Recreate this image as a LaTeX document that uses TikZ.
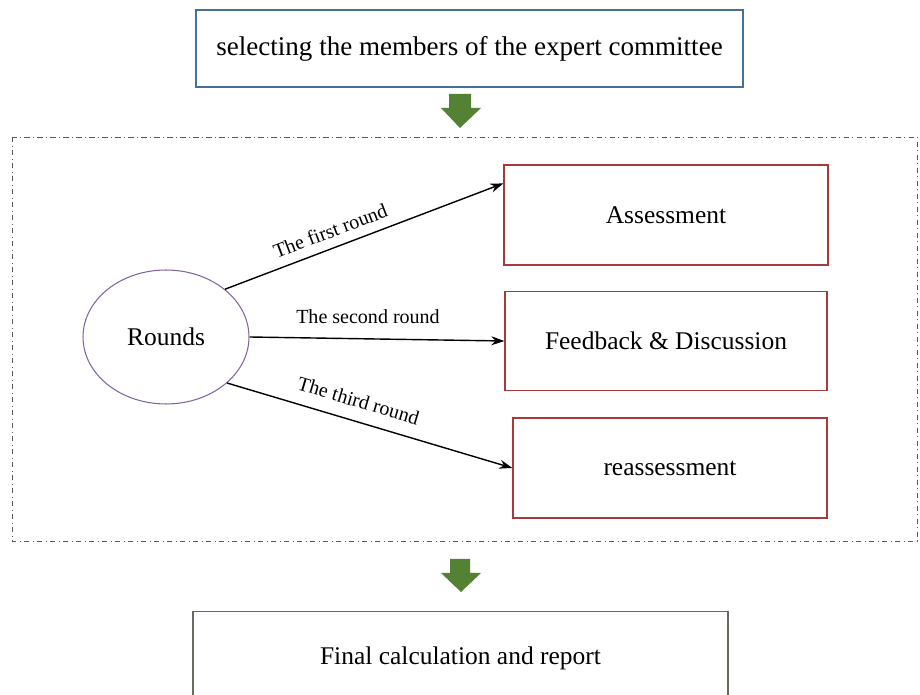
\documentclass[tikz,border=0pt]{standalone}
\usepackage{fontspec}
\setmainfont{Liberation Serif}
\usetikzlibrary{calc, positioning}
\usetikzlibrary{shapes.geometric}
\usetikzlibrary{arrows.meta}

\definecolor{topblue}{RGB}{70,112,150}
\definecolor{boxred}{RGB}{168,58,58}
\definecolor{ringpurple}{RGB}{128,100,162}
\definecolor{leafgreen}{RGB}{84,130,53}
\definecolor{olivegray}{RGB}{105,105,95}

\begin{document}
\begin{tikzpicture}[x=0.02cm, y=-0.02cm,
  bigtext/.style={font=\fontsize{14.5}{17}\selectfont},
  roundtext/.style={font=\fontsize{11.4}{13}\selectfont},
  stagebox/.style={draw=boxred, thick, minimum height=2cm, bigtext},
  flow/.style={-{Stealth[length=2.6mm, width=1.8mm]}, thick}
]
\useasboundingbox (0,0) rectangle (920,695);

% top and bottom steps
\node[draw=topblue, thick, minimum width=10.94cm, minimum height=1.54cm,
  font=\fontsize{15.4}{18}\selectfont, text depth=1mm]
  (select) at (469.5,48.5) {selecting the members of the expert committee};
\node[draw=olivegray, thick, minimum width=10.7cm, minimum height=1.9cm, bigtext,
  text depth=1.2mm] (final) at (460.5,659) {Final calculation and report};

% the Delphi rounds
\draw[gray!70!black, dash dot, thin] (12,137) rectangle (917,541);

\node[draw=ringpurple, semithick, ellipse, minimum width=3.32cm, minimum height=2.68cm, bigtext]
  (rounds) at (166,337) {Rounds};

\node[stagebox, minimum width=6.48cm] (assess) at (666,215) {Assessment};
\node[stagebox, minimum width=6.44cm, minimum height=1.98cm] (feedback) at (666,341) {Feedback \& Discussion};
\node[stagebox, minimum width=6.28cm] (reassess) at (670,468) {reassessment};

\draw[flow] (rounds.39) -- (assess.169.5)
  node[sloped, above=2pt, pos=0.4, roundtext] {The first round};
\draw[flow] (rounds.east) -- (feedback.west)
  node[above=5pt, pos=0.465, roundtext] {The second round};
\draw[flow] (rounds.-37.5) -- (reassess.west)
  node[sloped, above=4pt, pos=0.44, roundtext] {The third round};

% block arrows
\fill[leafgreen] (449,94) -- (471,94) -- (471,108) -- (481,108) -- (460,128)
  -- (441,108) -- (449,108) -- cycle;
\fill[leafgreen] (450,559) -- (470,559) -- (470,573) -- (481,573) -- (461,592)
  -- (441,573) -- (450,573) -- cycle;
\end{tikzpicture}
\end{document}
